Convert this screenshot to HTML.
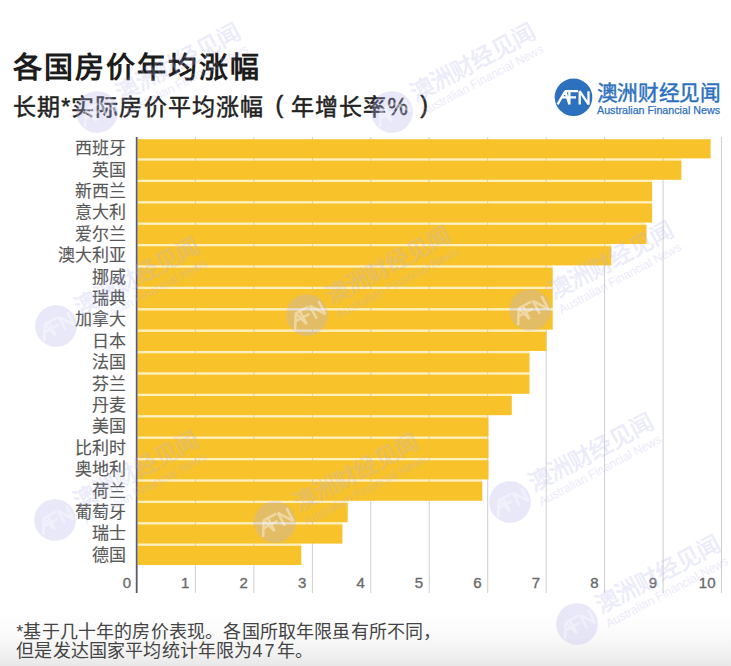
<!DOCTYPE html>
<html lang="zh-CN"><head><meta charset="utf-8">
<style>
html,body{margin:0;padding:0;}
body{width:731px;height:666px;position:relative;overflow:hidden;background:#fff;font-family:"Liberation Sans",sans-serif;}
.bg{position:absolute;left:0;top:0;width:731px;height:666px;background:linear-gradient(to bottom,#fff 0px,#fff 612px,#fafafa 635px,#f2f2f2 652px,#e8e8e8 666px);}
.t{position:absolute;white-space:nowrap;}
.title{left:13px;top:49.8px;font-size:29px;font-weight:bold;color:#1c1c1c;letter-spacing:2.05px;line-height:36px;}
.sub{top:92px;font-size:23px;color:#222;line-height:30px;-webkit-text-stroke:0.5px #222;letter-spacing:1.1px;}
.lab{position:absolute;right:605.2px;font-size:17px;line-height:21px;color:#585858;-webkit-text-stroke:0.15px #585858;white-space:nowrap;}
.tick{position:absolute;top:573px;width:40px;text-align:right;font-size:15px;line-height:20px;color:#6a6a6a;-webkit-text-stroke:0.35px #6a6a6a;}
.note{left:16.3px;top:623px;font-size:18px;line-height:19.2px;color:#444;letter-spacing:0.17px;}
svg{position:absolute;left:0;top:0;}
svg text{font-family:"Liberation Sans",sans-serif;}
</style></head><body>
<div class="bg"></div>
<svg width="731" height="666" viewBox="0 0 731 666">
<rect x="137.8" y="158.40" width="543.6" height="2.20" fill="#FFF0BC"/>
<rect x="137.8" y="179.80" width="514.3" height="2.20" fill="#FFF0BC"/>
<rect x="137.8" y="201.20" width="514.3" height="2.20" fill="#FFF0BC"/>
<rect x="137.8" y="222.60" width="508.7" height="2.20" fill="#FFF0BC"/>
<rect x="137.8" y="244.00" width="473.5" height="2.20" fill="#FFF0BC"/>
<rect x="137.8" y="265.40" width="414.9" height="2.20" fill="#FFF0BC"/>
<rect x="137.8" y="286.80" width="414.9" height="2.20" fill="#FFF0BC"/>
<rect x="137.8" y="308.20" width="414.9" height="2.20" fill="#FFF0BC"/>
<rect x="137.8" y="329.60" width="408.7" height="2.20" fill="#FFF0BC"/>
<rect x="137.8" y="351.00" width="391.7" height="2.20" fill="#FFF0BC"/>
<rect x="137.8" y="372.40" width="391.7" height="2.20" fill="#FFF0BC"/>
<rect x="137.8" y="393.80" width="374.0" height="2.20" fill="#FFF0BC"/>
<rect x="137.8" y="415.20" width="350.7" height="2.20" fill="#FFF0BC"/>
<rect x="137.8" y="436.60" width="350.7" height="2.20" fill="#FFF0BC"/>
<rect x="137.8" y="458.00" width="350.7" height="2.20" fill="#FFF0BC"/>
<rect x="137.8" y="479.40" width="344.5" height="2.20" fill="#FFF0BC"/>
<rect x="137.8" y="500.80" width="209.9" height="2.20" fill="#FFF0BC"/>
<rect x="137.8" y="522.20" width="204.6" height="2.20" fill="#FFF0BC"/>
<rect x="137.8" y="543.60" width="163.5" height="2.20" fill="#FFF0BC"/>
<line x1="195.4" y1="137" x2="195.4" y2="593" stroke="#cfcfcf" stroke-width="1"/>
<line x1="253.9" y1="137" x2="253.9" y2="593" stroke="#cfcfcf" stroke-width="1"/>
<line x1="312.4" y1="137" x2="312.4" y2="593" stroke="#cfcfcf" stroke-width="1"/>
<line x1="370.8" y1="137" x2="370.8" y2="593" stroke="#cfcfcf" stroke-width="1"/>
<line x1="429.2" y1="137" x2="429.2" y2="593" stroke="#cfcfcf" stroke-width="1"/>
<line x1="487.7" y1="137" x2="487.7" y2="593" stroke="#cfcfcf" stroke-width="1"/>
<line x1="546.2" y1="137" x2="546.2" y2="593" stroke="#cfcfcf" stroke-width="1"/>
<line x1="604.6" y1="137" x2="604.6" y2="593" stroke="#cfcfcf" stroke-width="1"/>
<line x1="663.1" y1="137" x2="663.1" y2="593" stroke="#cfcfcf" stroke-width="1"/>
<line x1="721.5" y1="137" x2="721.5" y2="593" stroke="#cfcfcf" stroke-width="1"/>
<rect x="137.8" y="139.20" width="572.8" height="19.2" fill="#F8C22B"/>
<rect x="137.8" y="160.60" width="543.6" height="19.2" fill="#F8C22B"/>
<rect x="137.8" y="182.00" width="514.3" height="19.2" fill="#F8C22B"/>
<rect x="137.8" y="203.40" width="514.3" height="19.2" fill="#F8C22B"/>
<rect x="137.8" y="224.80" width="508.7" height="19.2" fill="#F8C22B"/>
<rect x="137.8" y="246.20" width="473.5" height="19.2" fill="#F8C22B"/>
<rect x="137.8" y="267.60" width="414.9" height="19.2" fill="#F8C22B"/>
<rect x="137.8" y="289.00" width="414.9" height="19.2" fill="#F8C22B"/>
<rect x="137.8" y="310.40" width="414.9" height="19.2" fill="#F8C22B"/>
<rect x="137.8" y="331.80" width="408.7" height="19.2" fill="#F8C22B"/>
<rect x="137.8" y="353.20" width="391.7" height="19.2" fill="#F8C22B"/>
<rect x="137.8" y="374.60" width="391.7" height="19.2" fill="#F8C22B"/>
<rect x="137.8" y="396.00" width="374.0" height="19.2" fill="#F8C22B"/>
<rect x="137.8" y="417.40" width="350.7" height="19.2" fill="#F8C22B"/>
<rect x="137.8" y="438.80" width="350.7" height="19.2" fill="#F8C22B"/>
<rect x="137.8" y="460.20" width="350.7" height="19.2" fill="#F8C22B"/>
<rect x="137.8" y="481.60" width="344.5" height="19.2" fill="#F8C22B"/>
<rect x="137.8" y="503.00" width="209.9" height="19.2" fill="#F8C22B"/>
<rect x="137.8" y="524.40" width="204.6" height="19.2" fill="#F8C22B"/>
<rect x="137.8" y="545.80" width="163.5" height="19.2" fill="#F8C22B"/>
<line x1="136.7" y1="137" x2="136.7" y2="593" stroke="#5f5a66" stroke-width="1.8"/>
</svg>
<div class="t title">各国房价年均涨幅</div>
<div class="t sub" style="left:13px">长期*实际房价平均涨幅</div>
<div class="t sub" style="left:275.5px;margin-top:-2.5px">(</div>
<div class="t sub" style="left:291px">年增长率%</div>
<div class="t sub" style="left:420.2px;margin-top:-2.5px">)</div>
<div class="lab" style="top:138.2px">西班牙</div>
<div class="lab" style="top:159.6px">英国</div>
<div class="lab" style="top:181.0px">新西兰</div>
<div class="lab" style="top:202.4px">意大利</div>
<div class="lab" style="top:223.8px">爱尔兰</div>
<div class="lab" style="top:245.2px">澳大利亚</div>
<div class="lab" style="top:266.6px">挪威</div>
<div class="lab" style="top:288.0px">瑞典</div>
<div class="lab" style="top:309.4px">加拿大</div>
<div class="lab" style="top:330.8px">日本</div>
<div class="lab" style="top:352.2px">法国</div>
<div class="lab" style="top:373.6px">芬兰</div>
<div class="lab" style="top:395.0px">丹麦</div>
<div class="lab" style="top:416.4px">美国</div>
<div class="lab" style="top:437.8px">比利时</div>
<div class="lab" style="top:459.2px">奥地利</div>
<div class="lab" style="top:480.6px">荷兰</div>
<div class="lab" style="top:502.0px">葡萄牙</div>
<div class="lab" style="top:523.4px">瑞士</div>
<div class="lab" style="top:544.8px">德国</div>
<div class="tick" style="left:91.0px">0</div>
<div class="tick" style="left:149.4px">1</div>
<div class="tick" style="left:207.9px">2</div>
<div class="tick" style="left:266.4px">3</div>
<div class="tick" style="left:324.8px">4</div>
<div class="tick" style="left:383.2px">5</div>
<div class="tick" style="left:441.7px">6</div>
<div class="tick" style="left:500.2px">7</div>
<div class="tick" style="left:558.6px">8</div>
<div class="tick" style="left:617.1px">9</div>
<div class="tick" style="left:675.5px">10</div>
<div class="t note">*基于几十年的房价表现。各国所取年限虽有所不同，<br>但是发达国家平均统计年限为<span style="letter-spacing:2px">47</span>年。</div>
<svg width="731" height="666" viewBox="0 0 731 666">
<circle cx="573.5" cy="97.3" r="18.8" fill="#2C70BE"/>
<path d="M557.6 104.4 L565.2 91.2 L569.4 104.4 M569.4 104.4 V91.2 M565 91.2 H578 M562 97.4 H576 M579.7 104.4 V91.2 L588.5 104.4 V91.2" stroke="#fff" stroke-width="2.3" stroke-linejoin="bevel" fill="none"/>
<text x="596.5" y="99.6" font-size="21" fill="#2C70BE" stroke="#2C70BE" stroke-width="0.45" textLength="124" lengthAdjust="spacingAndGlyphs">澳洲财经见闻</text>
<text x="597" y="113.8" font-size="11.3" fill="#2C70BE" stroke="#2C70BE" stroke-width="0.25" textLength="123" lengthAdjust="spacingAndGlyphs">Australian Financial News</text>
<g>
<g transform="translate(97,112) rotate(-28) scale(1.11) translate(-573.5,-97.3)"><circle cx="573.5" cy="97.3" r="18.8" fill="#b4b4ec" opacity="0.30"/>
<path d="M557.6 104.4 L565.2 91.2 L569.4 104.4 M569.4 104.4 V91.2 M565 91.2 H578 M562 97.4 H576 M579.7 104.4 V91.2 L588.5 104.4 V91.2" stroke="#fff" stroke-width="2.3" stroke-linejoin="bevel" fill="none" opacity="0.4"/>
<g opacity="0.26"><text x="596.5" y="99.6" font-size="21" fill="#b4b4ec" stroke="#b4b4ec" stroke-width="0.45" textLength="124" lengthAdjust="spacingAndGlyphs">澳洲财经见闻</text>
<text x="597" y="113.8" font-size="11.3" fill="#b4b4ec" textLength="123" lengthAdjust="spacingAndGlyphs">Australian Financial News</text></g></g>
<g transform="translate(392,112) rotate(-28) scale(1.11) translate(-573.5,-97.3)"><circle cx="573.5" cy="97.3" r="18.8" fill="#b4b4ec" opacity="0.30"/>
<path d="M557.6 104.4 L565.2 91.2 L569.4 104.4 M569.4 104.4 V91.2 M565 91.2 H578 M562 97.4 H576 M579.7 104.4 V91.2 L588.5 104.4 V91.2" stroke="#fff" stroke-width="2.3" stroke-linejoin="bevel" fill="none" opacity="0.4"/>
<g opacity="0.26"><text x="596.5" y="99.6" font-size="21" fill="#b4b4ec" stroke="#b4b4ec" stroke-width="0.45" textLength="124" lengthAdjust="spacingAndGlyphs">澳洲财经见闻</text>
<text x="597" y="113.8" font-size="11.3" fill="#b4b4ec" textLength="123" lengthAdjust="spacingAndGlyphs">Australian Financial News</text></g></g>
<g transform="translate(56,326) rotate(-28) scale(1.11) translate(-573.5,-97.3)"><circle cx="573.5" cy="97.3" r="18.8" fill="#b4b4ec" opacity="0.30"/>
<path d="M557.6 104.4 L565.2 91.2 L569.4 104.4 M569.4 104.4 V91.2 M565 91.2 H578 M562 97.4 H576 M579.7 104.4 V91.2 L588.5 104.4 V91.2" stroke="#fff" stroke-width="2.3" stroke-linejoin="bevel" fill="none" opacity="0.4"/>
<g opacity="0.26"><text x="596.5" y="99.6" font-size="21" fill="#b4b4ec" stroke="#b4b4ec" stroke-width="0.45" textLength="124" lengthAdjust="spacingAndGlyphs">澳洲财经见闻</text>
<text x="597" y="113.8" font-size="11.3" fill="#b4b4ec" textLength="123" lengthAdjust="spacingAndGlyphs">Australian Financial News</text></g></g>
<g transform="translate(307,315) rotate(-28) scale(1.11) translate(-573.5,-97.3)"><circle cx="573.5" cy="97.3" r="18.8" fill="#b4b4ec" opacity="0.30"/>
<path d="M557.6 104.4 L565.2 91.2 L569.4 104.4 M569.4 104.4 V91.2 M565 91.2 H578 M562 97.4 H576 M579.7 104.4 V91.2 L588.5 104.4 V91.2" stroke="#fff" stroke-width="2.3" stroke-linejoin="bevel" fill="none" opacity="0.4"/>
<g opacity="0.26"><text x="596.5" y="99.6" font-size="21" fill="#b4b4ec" stroke="#b4b4ec" stroke-width="0.45" textLength="124" lengthAdjust="spacingAndGlyphs">澳洲财经见闻</text>
<text x="597" y="113.8" font-size="11.3" fill="#b4b4ec" textLength="123" lengthAdjust="spacingAndGlyphs">Australian Financial News</text></g></g>
<g transform="translate(530,310) rotate(-28) scale(1.11) translate(-573.5,-97.3)"><circle cx="573.5" cy="97.3" r="18.8" fill="#b4b4ec" opacity="0.30"/>
<path d="M557.6 104.4 L565.2 91.2 L569.4 104.4 M569.4 104.4 V91.2 M565 91.2 H578 M562 97.4 H576 M579.7 104.4 V91.2 L588.5 104.4 V91.2" stroke="#fff" stroke-width="2.3" stroke-linejoin="bevel" fill="none" opacity="0.4"/>
<g opacity="0.26"><text x="596.5" y="99.6" font-size="21" fill="#b4b4ec" stroke="#b4b4ec" stroke-width="0.45" textLength="124" lengthAdjust="spacingAndGlyphs">澳洲财经见闻</text>
<text x="597" y="113.8" font-size="11.3" fill="#b4b4ec" textLength="123" lengthAdjust="spacingAndGlyphs">Australian Financial News</text></g></g>
<g transform="translate(55,520) rotate(-28) scale(1.11) translate(-573.5,-97.3)"><circle cx="573.5" cy="97.3" r="18.8" fill="#b4b4ec" opacity="0.30"/>
<path d="M557.6 104.4 L565.2 91.2 L569.4 104.4 M569.4 104.4 V91.2 M565 91.2 H578 M562 97.4 H576 M579.7 104.4 V91.2 L588.5 104.4 V91.2" stroke="#fff" stroke-width="2.3" stroke-linejoin="bevel" fill="none" opacity="0.4"/>
<g opacity="0.26"><text x="596.5" y="99.6" font-size="21" fill="#b4b4ec" stroke="#b4b4ec" stroke-width="0.45" textLength="124" lengthAdjust="spacingAndGlyphs">澳洲财经见闻</text>
<text x="597" y="113.8" font-size="11.3" fill="#b4b4ec" textLength="123" lengthAdjust="spacingAndGlyphs">Australian Financial News</text></g></g>
<g transform="translate(275,522) rotate(-28) scale(1.11) translate(-573.5,-97.3)"><circle cx="573.5" cy="97.3" r="18.8" fill="#b4b4ec" opacity="0.30"/>
<path d="M557.6 104.4 L565.2 91.2 L569.4 104.4 M569.4 104.4 V91.2 M565 91.2 H578 M562 97.4 H576 M579.7 104.4 V91.2 L588.5 104.4 V91.2" stroke="#fff" stroke-width="2.3" stroke-linejoin="bevel" fill="none" opacity="0.4"/>
<g opacity="0.26"><text x="596.5" y="99.6" font-size="21" fill="#b4b4ec" stroke="#b4b4ec" stroke-width="0.45" textLength="124" lengthAdjust="spacingAndGlyphs">澳洲财经见闻</text>
<text x="597" y="113.8" font-size="11.3" fill="#b4b4ec" textLength="123" lengthAdjust="spacingAndGlyphs">Australian Financial News</text></g></g>
<g transform="translate(510,502) rotate(-28) scale(1.11) translate(-573.5,-97.3)"><circle cx="573.5" cy="97.3" r="18.8" fill="#b4b4ec" opacity="0.30"/>
<path d="M557.6 104.4 L565.2 91.2 L569.4 104.4 M569.4 104.4 V91.2 M565 91.2 H578 M562 97.4 H576 M579.7 104.4 V91.2 L588.5 104.4 V91.2" stroke="#fff" stroke-width="2.3" stroke-linejoin="bevel" fill="none" opacity="0.4"/>
<g opacity="0.26"><text x="596.5" y="99.6" font-size="21" fill="#b4b4ec" stroke="#b4b4ec" stroke-width="0.45" textLength="124" lengthAdjust="spacingAndGlyphs">澳洲财经见闻</text>
<text x="597" y="113.8" font-size="11.3" fill="#b4b4ec" textLength="123" lengthAdjust="spacingAndGlyphs">Australian Financial News</text></g></g>
<g transform="translate(577,624) rotate(-28) scale(1.11) translate(-573.5,-97.3)"><circle cx="573.5" cy="97.3" r="18.8" fill="#b4b4ec" opacity="0.30"/>
<path d="M557.6 104.4 L565.2 91.2 L569.4 104.4 M569.4 104.4 V91.2 M565 91.2 H578 M562 97.4 H576 M579.7 104.4 V91.2 L588.5 104.4 V91.2" stroke="#fff" stroke-width="2.3" stroke-linejoin="bevel" fill="none" opacity="0.4"/>
<g opacity="0.26"><text x="596.5" y="99.6" font-size="21" fill="#b4b4ec" stroke="#b4b4ec" stroke-width="0.45" textLength="124" lengthAdjust="spacingAndGlyphs">澳洲财经见闻</text>
<text x="597" y="113.8" font-size="11.3" fill="#b4b4ec" textLength="123" lengthAdjust="spacingAndGlyphs">Australian Financial News</text></g></g>
</g>
</svg>
</body></html>
